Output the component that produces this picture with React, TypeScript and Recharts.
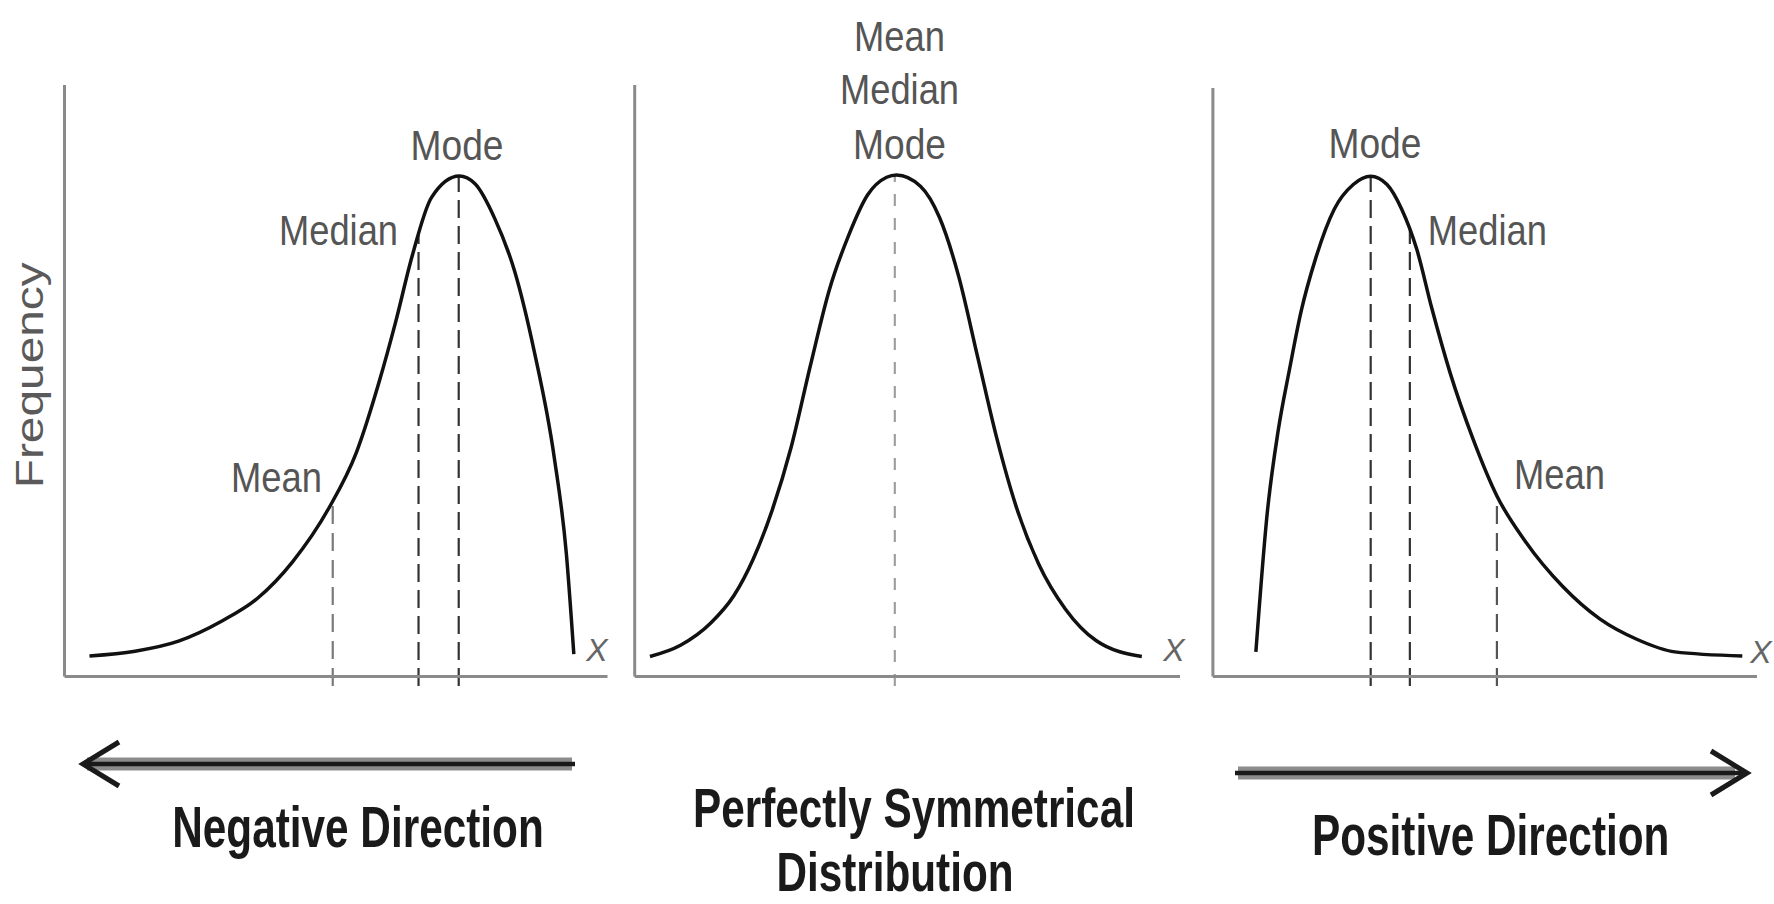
import React from 'react';
import { LineChart, Line, XAxis, YAxis, ReferenceLine } from 'recharts';

// x runs 0..100 along each x-axis, frequency 0..100 up each y-axis

// negative (left) skew
const negSkewX = [4.6, 13, 21, 29, 35.5, 42, 48.7, 53.8, 58, 61, 64, 67.6, 72.7, 75.6, 79.2, 82.9, 86.5, 90.2, 92.4, 93.8];
const negSkewFreq = [3.5, 4.3, 6, 9.4, 13.2, 19.4, 28.5, 38, 50, 60, 71, 81, 84.6, 83.3, 77.5, 68.5, 55, 37, 21, 3.8];

// perfectly symmetrical
const symX = [2.8, 8.4, 14, 18.2, 21.7, 25.2, 28.7, 32.2, 35.7, 39.2, 42.7, 46.2, 48, 52.4, 55.9, 59.4, 62.9, 66.4, 69.9, 74.1, 79, 84.6, 93];
const symFreq = [3.4, 5.3, 9.1, 13.7, 19.8, 28.1, 38.8, 52.5, 65.4, 74.5, 81.4, 84.4, 84.8, 82.9, 77.6, 67.7, 54, 40.3, 28.9, 19, 11.4, 6.1, 3.4];

// positive (right) skew
const posSkewX = [7.9, 10, 12, 14.1, 16.2, 18.9, 22.3, 25.8, 29, 32, 34.7, 37.5, 40.2, 43.6, 47.8, 52.2, 57.4, 64.3, 71.1, 78, 84.9, 97.3];
const posSkewFreq = [4.2, 27.9, 41.8, 52.3, 62, 71.1, 79.4, 83.6, 85, 83.6, 79.4, 72.5, 62.7, 51.6, 40.4, 30.7, 23, 15.3, 9.8, 6.3, 4.2, 3.5];

// Mean, Median, Mode
const statNames = ['Mean', 'Median', 'Mode'];
const negStatX = [49.4, 65.2, 72.6];
const negStatFreq = [29.5, 75, 84.6];
const symStatX = [47.7, 47.7, 47.7];
const symStatFreq = [84.8, 84.8, 84.8];
const posStatX = [52.2, 36.2, 29.0];
const posStatFreq = [30.7, 76, 85];

const captions = ['Negative Direction', 'Perfectly Symmetrical', 'Distribution', 'Positive Direction'];

const toRows = (xs: number[], ys: number[]) => xs.map((x, i) => ({ x, freq: ys[i] }));
const negData = toRows(negSkewX, negSkewFreq);
const symData = toRows(symX, symFreq);
const posData = toRows(posSkewX, posSkewFreq);

const SANS = "'Liberation Sans', Arial, Helvetica, sans-serif";
const AXIS = { stroke: '#8a8a8a', strokeWidth: 3 };
const H = 904;
const SQUEEZE = 0.73;
const LABEL_W: Record<string, number> = { Mean: 91, Median: 119, Mode: 93 };

type Tag = { text: string; dx: number; dy: number; anchor: 'start' | 'middle' | 'end' };

// label content drawn next to the top end of a dashed marker
const tagsAt = (tags: Tag[]) => (props: any) => {
  const vb = props.viewBox || { x: 0, y: 0 };
  return (
    <g>
      {tags.map((t) => (
        <text
          key={t.text}
          x={vb.x + t.dx}
          y={vb.y + t.dy}
          textAnchor={t.anchor}
          fontFamily={SANS}
          fontSize={43}
          fill="#555"
          textLength={LABEL_W[t.text]}
          lengthAdjust="spacingAndGlyphs"
        >
          {t.text}
        </text>
      ))}
    </g>
  );
};

const xMark = (vb: any, dx: number, dy: number) => (
  <text x={vb.x + vb.width + dx} y={vb.y + dy} textAnchor="middle" fontFamily={SANS} fontStyle="italic" fontSize={32} fill="#666">
    X
  </text>
);

// condensed bold caption (squeezed horizontally)
const caption = (text: string, x: number, y: number, size = 58, squeeze = SQUEEZE) => (
  <text
    transform={`translate(${x}, ${y}) scale(${squeeze}, 1)`}
    x={0}
    y={0}
    textAnchor="middle"
    fontFamily={SANS}
    fontWeight="bold"
    fontSize={size}
    fill="#1a1a1a"
  >
    {text}
  </text>
);

const arrow = (x1: number, x2: number, y: number, dir: 'left' | 'right') => {
  const tip = dir === 'left' ? x1 - 4 : x2 + 12;
  const s = dir === 'left' ? 1 : -1;
  const core1 = dir === 'left' ? tip : x1 - 3;
  const core2 = dir === 'left' ? x2 + 3 : tip;
  return (
    <g>
      <line x1={x1} y1={y} x2={x2} y2={y} stroke="#8c8c8c" strokeWidth={13} />
      <line x1={core1} y1={y} x2={core2} y2={y} stroke="#1a1a1a" strokeWidth={4.5} />
      <polyline
        points={`${tip + s * 36},${y - 22} ${tip},${y} ${tip + s * 36},${y + 22}`}
        fill="none"
        stroke="#1a1a1a"
        strokeWidth={5}
        strokeLinejoin="miter"
      />
    </g>
  );
};

const negAxisLabel = (props: any) => {
  const vb = props.viewBox || { x: 64.5, y: 676.6, width: 543 };
  return (
    <g>
      {xMark(vb, -10.5, -16)}
      {arrow(vb.x + 22.5, vb.x + 507.5, vb.y + 87.4, 'left')}
      {caption(captions[0], vb.x + 293.5, vb.y + 170.4)}
    </g>
  );
};

const symAxisLabel = (props: any) => {
  const vb = props.viewBox || { x: 34.7, y: 676.6, width: 545.3 };
  return (
    <g>
      {xMark(vb, -6, -16)}
      {caption(captions[1], vb.x + 279.3, vb.y + 150.4, 56, 0.755)}
      {caption(captions[2], vb.x + 260.3, vb.y + 214.4, 56, 0.755)}
    </g>
  );
};

const posAxisLabel = (props: any) => {
  const vb = props.viewBox || { x: 22.9, y: 676.6, width: 544.1 };
  return (
    <g>
      {xMark(vb, 4, -13.6)}
      {arrow(vb.x + 25.1, vb.x + 522.1, vb.y + 96.4, 'right')}
      {caption(captions[3], vb.x + 277.8, vb.y + 178.4)}
    </g>
  );
};

const freqLabel = (props: any) => {
  const vb = props.viewBox || { x: 63.5, y: 85, width: 1, height: 591.6 };
  const x = vb.x + (vb.width || 0) - 21;
  const y = vb.y + vb.height / 2 - 5.5;
  return (
    <text x={x} y={y} transform={`rotate(-90, ${x}, ${y})`} textAnchor="middle" fontFamily={SANS} fontSize={39} fill="#5a5a5a" textLength={226} lengthAdjust="spacingAndGlyphs">
      Frequency
    </text>
  );
};

const axes = (xLabel: any, yLabel?: any) => [
  <XAxis key="x" type="number" dataKey="x" domain={[0, 100]} allowDataOverflow tick={false} tickLine={false} height={1} axisLine={AXIS} label={xLabel} />,
  <YAxis key="y" type="number" domain={[0, 100]} allowDataOverflow tick={false} tickLine={false} width={1} axisLine={AXIS} label={yLabel} />,
];

const dashed = (x: number, top: number, stroke: string, dash: string, label?: any, key?: string) => (
  <ReferenceLine
    key={key}
    segment={[{ x, y: -1.6 }, { x, y: top }]}
    ifOverflow="visible"
    stroke={stroke}
    strokeWidth={2.2}
    strokeDasharray={dash}
    label={label}
  />
);

export default function App() {
  return (
    <div style={{ position: 'absolute', left: 0, top: 0, width: 1774, height: H, background: '#fff', overflow: 'hidden' }}>
      {/* negative skew */}
      <div style={{ position: 'absolute', left: 0, top: 0 }}>
        <LineChart width={640} height={H} data={negData} margin={{ top: 85, left: 63.5, right: 32.5, bottom: 226.4 }}>
          {axes(negAxisLabel, freqLabel)}
          {dashed(negStatX[0], negStatFreq[0], '#7a7a7a', '18 9', tagsAt([{ text: statNames[0], dx: -10.7, dy: -10, anchor: 'end' }]), 'mean')}
          {dashed(negStatX[1], negStatFreq[1], '#333', '18 8', tagsAt([{ text: statNames[1], dx: -20.5, dy: 12.5, anchor: 'end' }]), 'median')}
          {dashed(negStatX[2], negStatFreq[2], '#333', '18 8', tagsAt([{ text: statNames[2], dx: -1.7, dy: -16.5, anchor: 'middle' }]), 'mode')}
          <Line type="monotone" dataKey="freq" stroke="#111" strokeWidth={3.5} dot={false} isAnimationActive={false} />
        </LineChart>
      </div>

      {/* symmetrical */}
      <div style={{ position: 'absolute', left: 600, top: 0 }}>
        <LineChart width={600} height={H} data={symData} margin={{ top: 85, left: 33.7, right: 20, bottom: 226.4 }}>
          {axes(symAxisLabel)}
          {dashed(
            symStatX[0],
            symStatFreq[0],
            '#a0a0a0',
            '12 12',
            tagsAt([
              { text: statNames[0], dx: 4.7, dy: -124, anchor: 'middle' },
              { text: statNames[1], dx: 4.7, dy: -71, anchor: 'middle' },
              { text: statNames[2], dx: 4.7, dy: -15.5, anchor: 'middle' },
            ]),
            'centre'
          )}
          <Line type="monotone" dataKey="freq" stroke="#111" strokeWidth={3.5} dot={false} isAnimationActive={false} />
        </LineChart>
      </div>

      {/* positive skew */}
      <div style={{ position: 'absolute', left: 1190, top: 0 }}>
        <LineChart width={584} height={H} data={posData} margin={{ top: 88, left: 21.9, right: 17, bottom: 226.4 }}>
          {axes(posAxisLabel)}
          {dashed(posStatX[0], posStatFreq[0], '#555', '18 9', tagsAt([{ text: statNames[0], dx: 17, dy: -7, anchor: 'start' }]), 'mean')}
          {dashed(posStatX[1], posStatFreq[1], '#333', '18 8', tagsAt([{ text: statNames[1], dx: 18, dy: 16, anchor: 'start' }]), 'median')}
          {dashed(posStatX[2], posStatFreq[2], '#333', '18 8', tagsAt([{ text: statNames[2], dx: 4.3, dy: -18.5, anchor: 'middle' }]), 'mode')}
          <Line type="monotone" dataKey="freq" stroke="#111" strokeWidth={3.5} dot={false} isAnimationActive={false} />
        </LineChart>
      </div>
    </div>
  );
}
